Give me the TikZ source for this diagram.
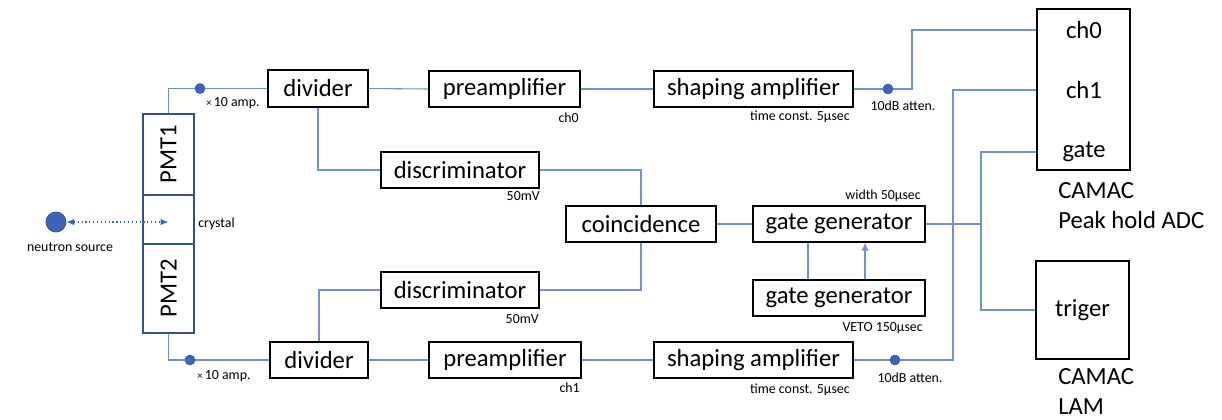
\documentclass[tikz,border=0pt]{standalone}
\usepackage{fontspec}
\setmainfont{Carlito}
\usetikzlibrary{arrows.meta,calc}
\definecolor{wirec}{HTML}{6F8FD8}
\definecolor{dotc}{HTML}{3F63BD}
\definecolor{darkb}{HTML}{2F528F}
\newcommand{\bigf}{\fontsize{18.5}{22}\selectfont}
\newcommand{\smallf}{\fontsize{10.4}{12}\selectfont}
\tikzset{
  wh/.style 2 args={minimum width=#1*0.75pt, minimum height=#2*0.75pt},
  box/.style={draw, line width=1.1pt, inner sep=0pt, font=\bigf},
  pmtbox/.style={draw=darkb, line width=1.1pt, inner sep=0pt, font=\bigf},
  wire/.style={draw=wirec, line width=0.8pt},
  dotn/.style={circle, fill=dotc, draw=darkb, line width=0.4pt, minimum size=7.5pt, inner sep=0pt},
  lbl/.style={font=\smallf, inner sep=0pt},
  big/.style={font=\bigf, inner sep=0pt}
}
\begin{document}
\begin{tikzpicture}[x=0.75pt,y=-0.75pt]
\useasboundingbox (0,0) rectangle (1222,419);
% boxes
\node[box, wh={100}{37}] (div1) at (318,88.5) {divider};
\node[box, wh={151}{36}] (pre1) at (504.5,89) {preamplifier};
\node[box, wh={199}{36}] (sha1) at (753.5,89) {shaping amplifier};
\node[box, wh={158}{36}] (dis1) at (460,170) {discriminator};
\node[box, wh={150}{36}] (coin) at (641,224) {coincidence};
\node[box, wh={172}{36}] (gg1) at (839,224) {gate generator};
\node[box, wh={172}{36}] (gg2) at (839,298) {gate generator};
\node[box, wh={158}{36}] (dis2) at (460,290) {discriminator};
\node[box, wh={98}{36}] (div2) at (319,360) {divider};
\node[box, wh={152}{36}] (pre2) at (505,360) {preamplifier};
\node[box, wh={199}{36}] (sha2) at (753.5,360) {shaping amplifier};
\node[box, wh={93}{161}] (adc) at (1083.5,89.5) {};
\node[box, wh={93}{98}] (trig) at (1082.5,310) {triger};
\node[big] (ch0) at (1084,30) {ch0};
\node[big] (ch1) at (1084,90) {ch1};
\node[big] (gate) at (1084,152) {gate};
\node[big, anchor=north west, align=left] (adcl) at (1058,182) {CAMAC\\[1pt]Peak hold ADC};
\node[big, anchor=north west, align=left] (laml) at (1058,368) {CAMAC\\[1pt]LAM};
% PMT column
\node[pmtbox, wh={51}{81}] (pmt1) at (168.5,154.5) {};
\node[pmtbox, wh={51}{49}] (cry) at (168.5,219.5) {};
\node[pmtbox, wh={51}{89}] (pmt2) at (168.5,288.5) {};
\node[big, rotate=90] (pmt1t) at (pmt1.center) {PMT1};
\node[big, rotate=90] (pmt2t) at (pmt2.center) {PMT2};
% neutron source
\node[circle, fill=dotc, draw=darkb, line width=0.6pt, minimum size=15pt, inner sep=0pt] (ns) at (56,222) {};
\draw[draw=dotc, line width=0.9pt, dotted, {Latex[length=6pt,width=5pt]}-{Latex[length=6pt,width=5pt]}] (ns.east) -- (ns.east -| cry.center);
\node[lbl] (nsl) at (70,247) {neutron source};
\node[lbl, anchor=west] (cryl) at (198,224) {crystal};
% dots
\node[dotn] (d1) at (200,88.5) {};
\node[dotn] (d2) at (190,360) {};
\node[dotn] (d3) at (888,89) {};
\node[dotn] (d4) at (895,360) {};
\coordinate (k1) at (912,89);
\coordinate (k2) at (953,360);
\coordinate (k3) at (981,224);
% wires
\draw[wire] (pmt1.north) |- (d1) -- (div1.west);
\draw[wire] (pmt2.south) |- (d2) -- (div2.west);
\draw[wire] (div1.east) -- (pre1.west);
\draw[wire] (pre1.east) -- (sha1.west);
\draw[wire] (div2.east) -- (pre2.west);
\draw[wire] (pre2.east) -- (sha2.west);
\draw[wire] (sha1.east) -- (d3) -- (k1) |- (adc.west |- ch0);
\draw[wire] (sha2.east) -- (d4) -- (k2) |- (adc.west |- ch1);
\draw[wire] (div1.south) |- (dis1.west);
\draw[wire] (div2.north) |- (dis2.west);
\draw[wire] (dis1.east) -| (coin.north);
\draw[wire] (coin.south) |- (dis2.east);
\draw[wire] (coin.east) -- (gg1.west);
\draw[wire] (gg1.east) -- (k3);
\draw[wire] (k3) |- (adc.west |- gate);
\draw[wire] (k3) |- (trig.west);
\draw[wire] ($(gg2.north)+(-31,0)$) -- ($(gg1.south)+(-31,0)$);
\draw[wire, -{Latex[length=6pt,width=5.5pt]}, draw=wirec] ($(gg2.north)+(26,0)$) -- ($(gg1.south)+(26,0)$);
% labels
\node[lbl, anchor=west] (a1) at (206,103) {{\fontsize{8}{10}\selectfont ×}\,10 amp.};
\node[lbl, anchor=west] (a2) at (197,376) {{\fontsize{8}{10}\selectfont ×}\,10 amp.};
\node[lbl, anchor=east] (c0) at (579,118) {ch0};
\node[lbl, anchor=east] (c1) at (580,388) {ch1};
\node[lbl, anchor=east] (t1) at (850,117) {time const. 5µsec};
\node[lbl, anchor=east] (t2) at (850,390) {time const. 5µsec};
\node[lbl] (at1) at (903,106) {10dB atten.};
\node[lbl] (at2) at (910,378) {10dB atten.};
\node[lbl, anchor=east] (m1) at (540,196) {50mV};
\node[lbl, anchor=east] (m2) at (539,319) {50mV};
\node[lbl, anchor=east] (w1) at (921,196) {width 50µsec};
\node[lbl, anchor=east] (v1) at (923,328) {VETO 150µsec};
\end{tikzpicture}
\end{document}
